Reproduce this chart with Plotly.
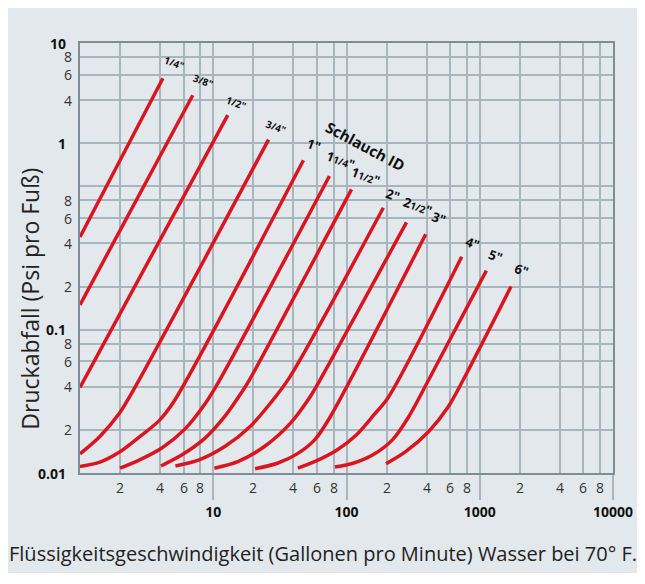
import math
import plotly.graph_objects as go

# ---------------- data ----------------
hose_labels = ['1/4"', '3/8"', '1/2"', '3/4"', '1"', '1 1/4"', '1 1/2"',
               '2"', '2 1/2"', '3"', '4"', '5"', '6"']

gpm_1_4 = [1.0, 4.19]
psi_1_4 = [0.443, 5.68]

gpm_3_8 = [1.0, 7.02]
psi_3_8 = [0.149, 4.32]

gpm_1_2 = [1.0, 12.85]
psi_1_2 = [0.0395, 3.14]

gpm_3_4 = [1.0, 1.41, 1.98, 2.78, 26.0]
psi_3_4 = [0.0136, 0.0180, 0.0262, 0.0447, 2.12]

gpm_1 = [1.0, 1.41, 1.98, 2.78, 3.91, 5.05, 47.5]
psi_1 = [0.0111, 0.0119, 0.0140, 0.0178, 0.0231, 0.0314, 1.52]

gpm_1_1_4 = [2.0, 2.78, 4.14, 6.17, 8.68, 11.2, 74.5]
psi_1_1_4 = [0.0108, 0.0123, 0.0150, 0.0204, 0.0304, 0.0447, 1.18]

gpm_1_1_2 = [4.05, 5.83, 8.68, 12.2, 16.2, 18.7, 109]
psi_1_1_2 = [0.0112, 0.0134, 0.0175, 0.0248, 0.0361, 0.0447, 0.952]

gpm_2 = [5.2, 7.74, 12.2, 19.2, 27.0, 37.2, 189]
psi_2 = [0.0112, 0.0123, 0.0153, 0.0214, 0.0309, 0.0461, 0.709]

gpm_2_1_2 = [10.2, 15.3, 24.2, 38.0, 53.5, 63.4, 282]
psi_2_1_2 = [0.0108, 0.0120, 0.0153, 0.0223, 0.0342, 0.0447, 0.561]

gpm_3 = [20.6, 30.3, 42.6, 57.9, 74.8, 393]
psi_3 = [0.0107, 0.0117, 0.0136, 0.0171, 0.0243, 0.463]

gpm_4 = [43.1, 60.0, 84.3, 119, 161, 205, 732]
psi_4 = [0.0108, 0.0122, 0.0144, 0.0185, 0.0255, 0.0335, 0.323]

gpm_5 = [81.9, 112, 158, 222, 293, 414, 1121]
psi_5 = [0.0110, 0.0117, 0.0134, 0.0171, 0.0247, 0.0447, 0.258]

gpm_6 = [198, 278, 414, 582, 752, 1717]
psi_6 = [0.0116, 0.0141, 0.0195, 0.0291, 0.0447, 0.200]

# axis ticks / labels
x_major_vals = [10, 100, 1000, 10000]
x_major_text = ["10", "100", "1000", "10000"]
x_minor_vals = [m * 10 ** d for d in range(4) for m in (2, 4, 6, 8)]
x_minor_text = [str(m) for d in range(4) for m in (2, 4, 6, 8)]

y_grid_vals = [10, 8, 6, 4, 2, 1, 0.8, 0.6, 0.4, 0.2, 0.1,
               0.08, 0.06, 0.04, 0.02, 0.01]
# labels as printed in the reference (its "1" sits on the 2-line)
y_label_vals = [10, 8, 6, 4, 2, 0.8, 0.6, 0.4, 0.2, 0.1, 0.08, 0.06, 0.04, 0.02, 0.01]
y_label_text = ["10", "8", "6", "4", "1", "8", "6", "4", "2", "0.1", "8", "6", "4", "2", "0.01"]
y_label_major = [True, False, False, False, True, False, False, False, False, True,
                 False, False, False, False, True]

# ---------------- styling ----------------
RED = "#d9161f"
GRID = "#a9b5bd"
BORDER = "#7d8e98"
PANEL = "#e3e8ec"
FONT = "Open Sans"

W, H = 637, 565
ML, MR, MT, MB = 72, 25, 35, 100
PW, PH = W - ML - MR, H - MT - MB


def px(sx):   # screen x (page) -> paper x
    return (sx - 8 - ML) / PW


def py(sy):   # screen y (page) -> paper y
    return 1 - (sy - 8 - MT) / PH


series = [
    (gpm_1_4, psi_1_4), (gpm_3_8, psi_3_8), (gpm_1_2, psi_1_2), (gpm_3_4, psi_3_4),
    (gpm_1, psi_1), (gpm_1_1_4, psi_1_1_4), (gpm_1_1_2, psi_1_1_2), (gpm_2, psi_2),
    (gpm_2_1_2, psi_2_1_2), (gpm_3, psi_3), (gpm_4, psi_4), (gpm_5, psi_5), (gpm_6, psi_6),
]

small = "<span style='font-size:10px'>{}</span>"
label_html = {
    '1/4"': small.format('1/4"'), '3/8"': small.format('3/8"'),
    '1/2"': small.format('1/2"'), '3/4"': small.format('3/4"'),
    '1 1/4"': '1' + small.format('1/4') + '"',
    '1 1/2"': '1' + small.format('1/2') + '"',
    '2 1/2"': '2' + small.format('1/2') + '"',
}
label_shift = [(12, 15), (11, 14), (9, 12), (8, 13), (11, 15), (11, 16), (14, 13),
               (10, 13), (11, 16), (13, 16), (11, 14), (10, 15), (11, 17)]

fig = go.Figure()
for (gx, gy), name in zip(series, hose_labels):
    fig.add_trace(go.Scatter(
        x=gx, y=gy, mode="lines", name=name, showlegend=False,
        line=dict(color=RED, width=3.5, shape="spline", smoothing=0.8),
        hoverinfo="x+y+name"))

annotations = []
for (gx, gy), name, (dx, dy) in zip(series, hose_labels, label_shift):
    annotations.append(dict(
        x=math.log10(gx[-1]), y=math.log10(gy[-1]), xref="x", yref="y",
        text="<b>" + label_html.get(name, name) + "</b>", showarrow=False,
        xanchor="center", yanchor="middle", xshift=dx, yshift=dy,
        textangle=20, font=dict(family=FONT, size=13, color="#111")))

annotations.append(dict(
    x=px(369), y=py(146), xref="paper", yref="paper",
    text="<b>Schlauch ID</b>", showarrow=False, textangle=28,
    xanchor="center", yanchor="middle",
    font=dict(family=FONT, size=15, color="#111")))

for v, t, major in zip(y_label_vals, y_label_text, y_label_major):
    annotations.append(dict(
        x=0, y=math.log10(v), xref="paper", yref="y",
        text=("<b>%s</b>" % t) if major else t, showarrow=False,
        xanchor="right", yanchor="middle", xshift=-12 if major else -6,
        font=dict(family=FONT, size=14, color="#111" if major else "#333")))

for v, t in zip(x_minor_vals, x_minor_text):
    annotations.append(dict(
        x=math.log10(v), y=0, xref="x", yref="paper", text=t, showarrow=False,
        xanchor="center", yanchor="middle", yshift=-14,
        font=dict(family=FONT, size=14, color="#333")))

annotations.append(dict(
    x=px(29), y=py(299), xref="paper", yref="paper",
    text="Druckabfall (Psi pro Fuß)", showarrow=False, textangle=-90,
    xanchor="center", yanchor="middle",
    font=dict(family=FONT, size=23, color="#222")))

annotations.append(dict(
    x=px(326), y=py(553), xref="paper", yref="paper",
    text="Flüssigkeitsgeschwindigkeit (Gallonen pro Minute) Wasser bei 70° F.",
    showarrow=False, xanchor="center", yanchor="middle",
    font=dict(family=FONT, size=20, color="#222")))

fig.update_layout(
    width=W, height=H,
    margin=dict(l=ML, r=MR, t=MT, b=MB),
    paper_bgcolor=PANEL, plot_bgcolor=PANEL,
    font=dict(family=FONT, color="#111"),
    annotations=annotations,
    xaxis=dict(
        type="log", range=[0, 4], tickvals=x_major_vals,
        ticktext=["<b>%s</b>" % t for t in x_major_text],
        ticks="outside", ticklen=25, tickwidth=1.5, tickcolor=GRID,
        tickfont=dict(family=FONT, size=14, color="#111"),
        showgrid=True, gridcolor=GRID, gridwidth=1.5, zeroline=False,
        minor=dict(tickvals=x_minor_vals, showgrid=True, gridcolor=GRID,
                   gridwidth=1.5, ticks=""),
        showline=True, mirror=True, linecolor=BORDER, linewidth=2),
    yaxis=dict(
        type="log", range=[-2, 1], tickvals=y_grid_vals, showticklabels=False,
        ticks="", showgrid=True, gridcolor=GRID, gridwidth=1.5, zeroline=False,
        showline=True, mirror=True, linecolor=BORDER, linewidth=2),
)

fig.write_html("out.html")
